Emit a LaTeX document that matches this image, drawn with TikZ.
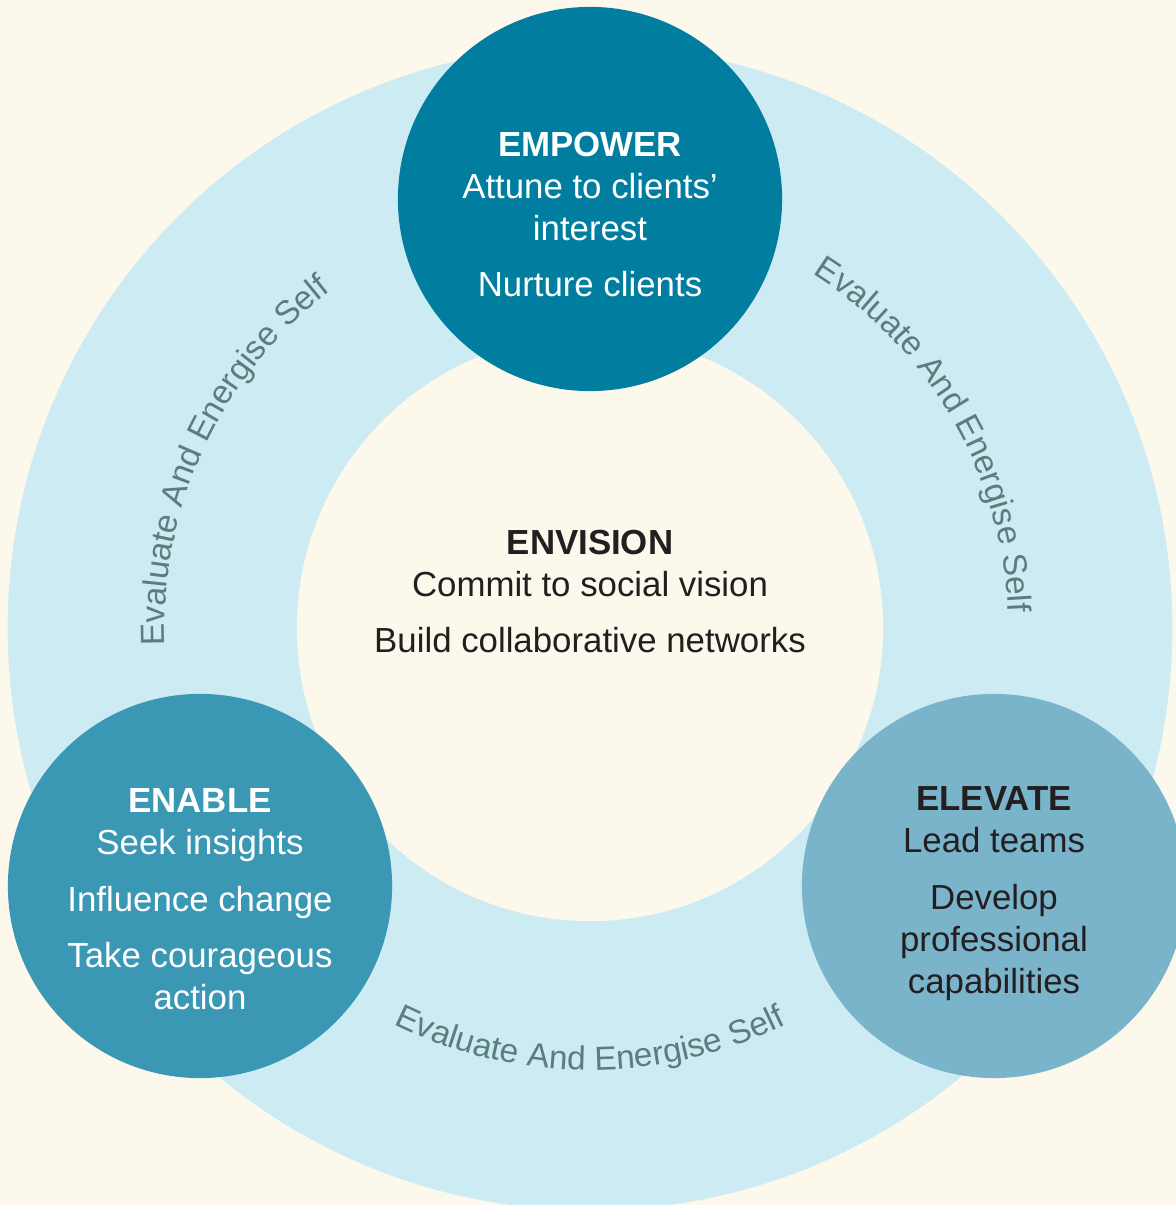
\documentclass[tikz,border=0pt]{standalone}
\usepackage{fontspec}
\setmainfont{Liberation Sans}
\usepackage{xcolor}
\usetikzlibrary{positioning,decorations.text}

\definecolor{cream}{HTML}{FCF9EC}
\definecolor{ringblue}{HTML}{CDEBF3}
\definecolor{empowerblue}{HTML}{007D9F}
\definecolor{enableblue}{HTML}{3B98B5}
\definecolor{elevateblue}{HTML}{7AB4CB}
\definecolor{cyclegray}{HTML}{5A7E7D}
\definecolor{inkdark}{HTML}{231F20}

\begin{document}
\begin{tikzpicture}[
        x=0.01cm, y=0.01cm,
        disc/.style={circle, inner sep=0pt, minimum size=3.84cm},
        caption/.style={align=center, inner sep=0pt, font=\fontsize{9.9}{11.95}\selectfont},
        cycletext/.style={decorate, decoration={text along path, text align=center, text color=cyclegray,
            text={|\fontsize{9.5}{11}\selectfont|Evaluate And Energise Self}}}
    ]
        % Background
        \useasboundingbox (0,0) rectangle (1176,1205);
        \clip (0,0) rectangle (1176,1205);
        \fill[cream] (0,0) rectangle (1176,1205);

        % Ring
        \node[circle, inner sep=0pt, minimum size=11.64cm, fill=ringblue] (ring) at (590,577) {};
        \node[circle, inner sep=0pt, minimum size=5.86cm, fill=cream] (envision) at (ring.center) {};

        % Curved labels
        \path[cycletext] (ring.center) ++(195:4.25cm) arc[start angle=195, end angle=115, radius=4.25cm];
        \path[cycletext] (ring.center) ++(70:4.18cm) arc[start angle=70, end angle=-10, radius=4.18cm];
        \path[cycletext] (ring.center) ++(230:4.42cm) arc[start angle=230, end angle=310, radius=4.42cm];

        % Discs
        \node[disc, fill=empowerblue] (empower) at (590,1006) {};
        \node[disc, fill=enableblue] (enable) at (200,319) {};
        \node[disc, fill=elevateblue] (elevate) at (994,319) {};

        % Texts
        \node[caption, text=white, below=1.25cm of empower.north] (empowertxt)
            {\textbf{EMPOWER}\\Attune to clients'\\interest\\[4pt]Nurture clients};
        \node[caption, text=inkdark, below=1.95cm of envision.north] (envisiontxt)
            {\textbf{ENVISION}\\Commit to social vision\\[4pt]Build collaborative networks};
        \node[caption, text=white, below=0.95cm of enable.north] (enabletxt)
            {\textbf{ENABLE}\\Seek insights\\[4pt]Influence change\\[4pt]Take courageous\\action};
        \node[caption, text=inkdark, below=0.93cm of elevate.north] (elevatetxt)
            {\textbf{ELEVATE}\\Lead teams\\[4pt]Develop\\professional\\capabilities};

    \end{tikzpicture}
\end{document}
